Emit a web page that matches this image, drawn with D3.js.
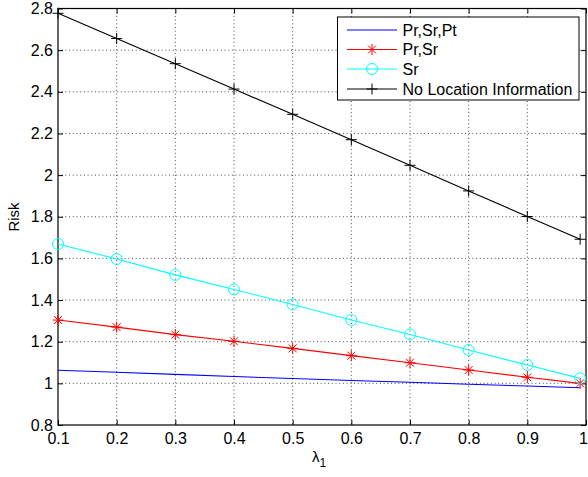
<!DOCTYPE html>
<html>
<head>
<meta charset="utf-8">
<script src="https://cdn.jsdelivr.net/npm/d3@7"></script>
<style>
  body { margin: 0; background: #fff; }
  svg text { font-family: "Liberation Sans", Arial, Helvetica, sans-serif; fill: #000; }
</style>
</head>
<body>
<svg id="chart" width="588" height="477"></svg>
<script>
// ---- data ----
const lambda1 = [0.1, 0.2, 0.3, 0.4, 0.5, 0.6, 0.7, 0.8, 0.9, 0.99];
const riskPrSrPt = [1.063, 1.053, 1.043, 1.033, 1.023, 1.014, 1.005, 0.996, 0.987, 0.979];
const riskPrSr   = [1.304, 1.270, 1.234, 1.202, 1.168, 1.133, 1.099, 1.064, 1.029, 1.000];
const riskSr     = [1.669, 1.597, 1.521, 1.451, 1.379, 1.304, 1.235, 1.160, 1.088, 1.024];
const riskNoLoc  = [2.777, 2.656, 2.535, 2.413, 2.292, 2.170, 2.047, 1.924, 1.801, 1.692];
const seriesNames = ["Pr,Sr,Pt", "Pr,Sr", "Sr", "No Location Information"];
const xTicks = [0.1, 0.2, 0.3, 0.4, 0.5, 0.6, 0.7, 0.8, 0.9, 1];
const yTicks = [0.8, 1, 1.2, 1.4, 1.6, 1.8, 2, 2.2, 2.4, 2.6, 2.8];

const series = [
  {name: seriesNames[0], values: riskPrSrPt, color: "#0000ff", marker: "none"},
  {name: seriesNames[1], values: riskPrSr,   color: "#ff0000", marker: "star"},
  {name: seriesNames[2], values: riskSr,     color: "#00ffff", marker: "circle"},
  {name: seriesNames[3], values: riskNoLoc,  color: "#000000", marker: "plus"}
];

const svg = d3.select("#chart");
const L = 58, R = 586, T = 8.5, B = 425;
const x = d3.scaleLinear().domain([0.1, 1]).range([L, R]);
const y = d3.scaleLinear().domain([0.8, 2.8]).range([B, T]);

// grid
const grid = svg.append("g");
xTicks.slice(1, -1).forEach(v => {
  grid.append("line").attr("x1", x(v)).attr("x2", x(v)).attr("y1", T).attr("y2", B)
    .attr("stroke", "#000").attr("stroke-width", 1).attr("stroke-dasharray", "1,2.7").attr("opacity", 0.7);
});
yTicks.slice(1, -1).forEach(v => {
  grid.append("line").attr("x1", L).attr("x2", R).attr("y1", y(v)).attr("y2", y(v))
    .attr("stroke", "#000").attr("stroke-width", 1).attr("stroke-dasharray", "1,2.7").attr("opacity", 0.7);
});

// axes
const tickLen = 5;
const xAxisB = d3.axisBottom(x).tickValues(xTicks).tickSizeInner(-tickLen).tickSizeOuter(0)
  .tickPadding(8).tickFormat(d3.format("~g"));
const xAxisT = d3.axisTop(x).tickValues(xTicks).tickSizeInner(-tickLen).tickSizeOuter(0).tickFormat("");
const yAxisL = d3.axisLeft(y).tickValues(yTicks).tickSizeInner(-tickLen).tickSizeOuter(0)
  .tickPadding(5).tickFormat(d3.format("~g"));
const yAxisR = d3.axisRight(y).tickValues(yTicks).tickSizeInner(-tickLen).tickSizeOuter(0).tickFormat("");

function styleAxis(g) {
  g.select(".domain").remove();
  g.selectAll(".tick line").attr("stroke", "#000");
  g.selectAll(".tick text").style("font-size", "16px").attr("fill", "#000");
}
const gxb = svg.append("g").attr("transform", `translate(0,${B})`).call(xAxisB).call(styleAxis);
gxb.selectAll(".tick text").filter(d => d === 1).attr("x", -3);
svg.append("g").attr("transform", `translate(0,${T})`).call(xAxisT).call(styleAxis);
svg.append("g").attr("transform", `translate(${L},0)`).call(yAxisL).call(styleAxis);
svg.append("g").attr("transform", `translate(${R},0)`).call(yAxisR).call(styleAxis);

// frame
svg.append("rect").attr("x", L).attr("y", T).attr("width", R - L).attr("height", B - T)
  .attr("fill", "none").attr("stroke", "#000").attr("stroke-width", 1.2);

// markers
function drawMarker(g, type, cx, cy, color) {
  if (type === "circle") {
    g.append("circle").attr("cx", cx).attr("cy", cy).attr("r", 5.5)
      .attr("fill", "none").attr("stroke", color).attr("stroke-width", 1);
  } else if (type === "plus") {
    const s = 5.5;
    g.append("path").attr("d", `M${cx - s},${cy}H${cx + s}M${cx},${cy - s}V${cy + s}`)
      .attr("stroke", color).attr("stroke-width", 1).attr("fill", "none");
  } else if (type === "star") {
    const s = 5.5, d = s * 0.72;
    g.append("path").attr("d",
      `M${cx - s},${cy}H${cx + s}M${cx},${cy - s}V${cy + s}` +
      `M${cx - d},${cy - d}L${cx + d},${cy + d}M${cx - d},${cy + d}L${cx + d},${cy - d}`)
      .attr("stroke", color).attr("stroke-width", 1).attr("fill", "none");
  }
}

// lines
const line = d3.line().x(d => x(d[0])).y(d => y(d[1]));
series.forEach(s => {
  const pts = lambda1.map((l, i) => [l, s.values[i]]);
  const g = svg.append("g");
  g.append("path").datum(pts).attr("d", line).attr("fill", "none")
    .attr("stroke", s.color).attr("stroke-width", 1.1);
  if (s.marker !== "none") pts.forEach(p => drawMarker(g, s.marker, x(p[0]), y(p[1]), s.color));
});

// legend
const lg = svg.append("g");
lg.append("rect").attr("x", 337.5).attr("y", 17).attr("width", 241.5).attr("height", 83)
  .attr("fill", "#fff").attr("stroke", "#000").attr("stroke-width", 1);
const rowY = [30, 49.5, 69, 89];
series.forEach((s, i) => {
  lg.append("line").attr("x1", 347).attr("x2", 397).attr("y1", rowY[i]).attr("y2", rowY[i])
    .attr("stroke", s.color).attr("stroke-width", 1.1);
  if (s.marker !== "none") drawMarker(lg, s.marker, 372, rowY[i], s.color);
  lg.append("text").attr("x", 402.5).attr("y", rowY[i]).attr("dy", "0.36em")
    .style("font-size", "16px").text(s.name);
});

// axis labels
svg.append("text").attr("transform", "translate(19,217) rotate(-90)")
  .attr("text-anchor", "middle").style("font-size", "15px").text("Risk");
const xl = svg.append("text").attr("x", 319).attr("y", 462).attr("text-anchor", "middle")
  .style("font-size", "15px");
xl.append("tspan").text("λ");
xl.append("tspan").attr("dy", 5).style("font-size", "12px").text("1");
</script>
</body>
</html>
